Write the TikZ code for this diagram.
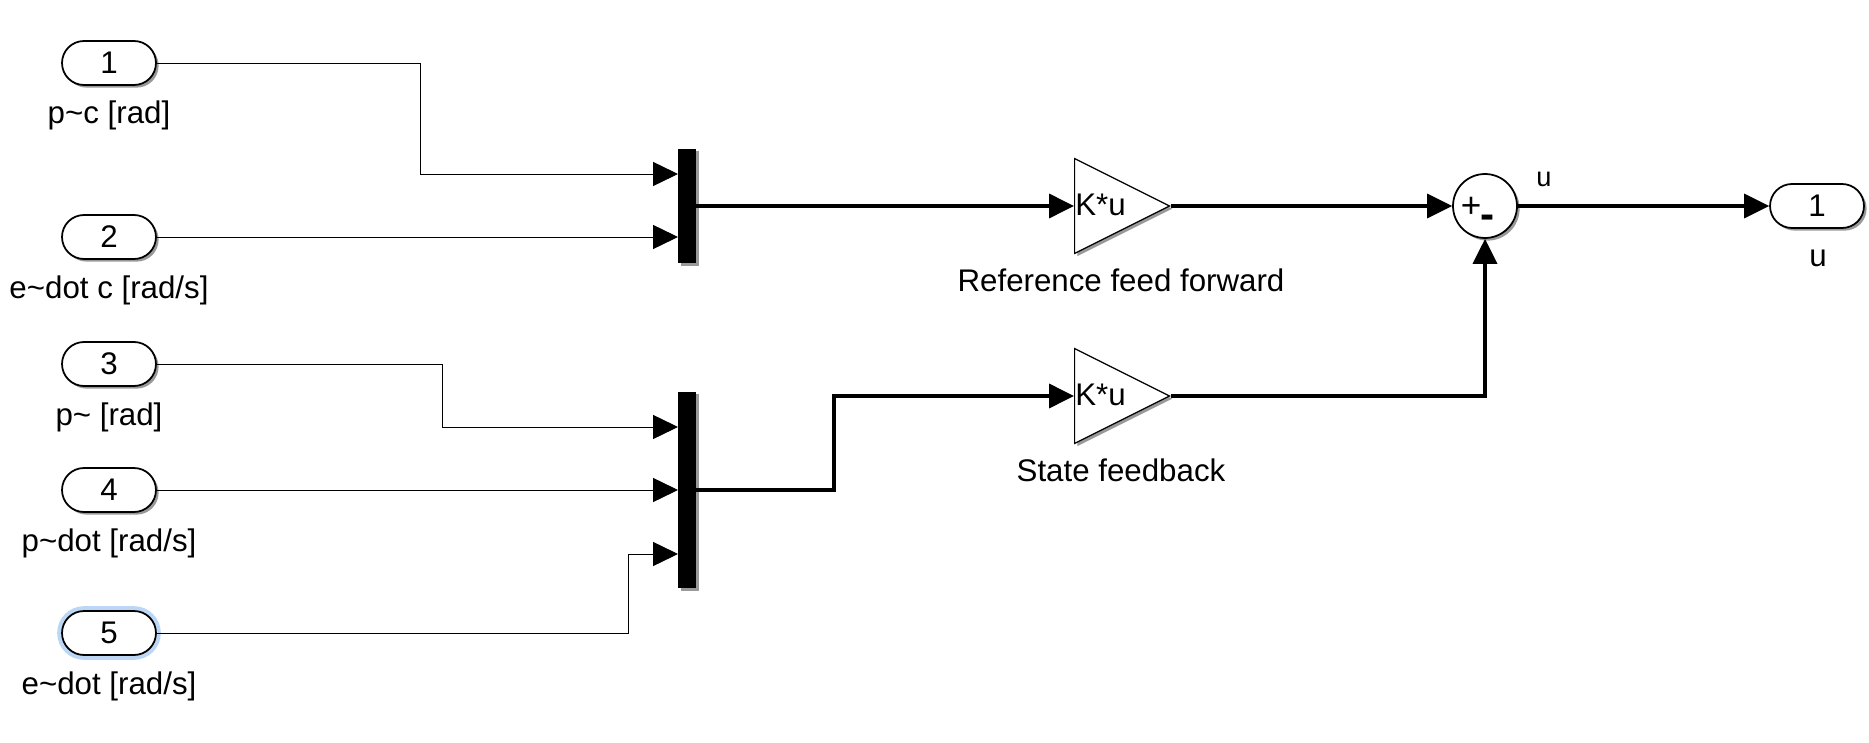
\documentclass[tikz,border=0pt]{standalone}
\usepackage{fontspec}
\setmainfont{Liberation Sans}
\usetikzlibrary{arrows.meta, calc, shapes.geometric, shapes.misc, shadows}

\tikzset{
  blockshadow/.style={drop shadow={shadow xshift=1.5pt, shadow yshift=-1.5pt, fill=black, opacity=0.4}},
  port/.style={rounded rectangle, draw, line width=1pt, fill=white, blockshadow, minimum width=1.88cm, minimum height=0.88cm, inner sep=0pt},
  selport/.style={port, preaction={draw={rgb,255:red,187;green,215;blue,245}, line width=5.5pt}},
  muxbar/.style={rectangle, fill=black, blockshadow, minimum width=0.36cm, inner sep=0pt},
  gainblock/.style={isosceles triangle, isosceles triangle apex angle=53.13, isosceles triangle stretches, draw, line width=0.7pt, fill=white, blockshadow, minimum width=1.9cm, minimum height=1.9cm, inner sep=0pt, anchor=lower side},
  sumblock/.style={circle, draw, line width=1pt, fill=white, blockshadow, minimum size=1.28cm, inner sep=0pt},
  txt/.style={inner sep=0pt, anchor=base},
  thinwire/.style={line width=0.55pt, -{Triangle[length=14.2pt, width=13.7pt]}},
  thickwire/.style={line width=1.9pt, -{Triangle[length=14.2pt, width=13.7pt]}}
}

\begin{document}
\begin{tikzpicture}[x=0.02cm, y=-0.02cm, font=\fontsize{17.8}{20}\selectfont]

\useasboundingbox (0,0) rectangle (1869,743);

% Entradas
\node[port] (in1) at (109,63) {1};
\node[port] (in2) at (109,237) {2};
\node[port] (in3) at (109,364) {3};
\node[port] (in4) at (109,490) {4};
\node[selport] (in5) at (109,633) {5};

\node[txt] (lab1) at (109,124) {p\textasciitilde c [rad]};
\node[txt] (lab2) at (109,298) {e\textasciitilde dot c [rad/s]};
\node[txt] (lab3) at (109,425) {p\textasciitilde{} [rad]};
\node[txt] (lab4) at (109,551) {p\textasciitilde dot [rad/s]};
\node[txt] (lab5) at (109,694) {e\textasciitilde dot [rad/s]};

% Mux
\node[muxbar, minimum height=2.3cm] (mux1) at (687,206) {};
\node[muxbar, minimum height=3.94cm] (mux2) at (687,490) {};

% Entradas de los mux
\coordinate (m1a) at (678,174);
\coordinate (m1b) at (678,237);
\coordinate (m2a) at (678,427);
\coordinate (m2b) at (678,490);
\coordinate (m2c) at (678,554);

% Ganancias
\node[gainblock] (gain1) at (1074,206) {};
\node[gainblock] (gain2) at (1074,396) {};
\node[txt, anchor=base west] (gtxt1) at (1075,215) {K*u};
\node[txt, anchor=base west] (gtxt2) at (1075,405) {K*u};
\node[txt] (gname1) at (1121,292) {Reference feed forward};
\node[txt] (gname2) at (1121,481) {State feedback};

% Suma
\node[sumblock] (sum) at (1485,206) {};
\node[inner sep=0pt, font=\fontsize{20}{22}\selectfont] (plus) at (1471,207) {+};
\node[inner sep=0pt, font=\fontsize{24}{26}\selectfont\bfseries] (minus) at (1487,222) {-};

% Salida
\node[port] (out1) at (1817,206) {1};
\node[txt] (outlab) at (1818,266) {u};
\node[txt, font=\fontsize{15.5}{18}\selectfont] (ulab) at (1544,187) {u};

% Conexiones
\coordinate (c1) at (420,174);
\coordinate (c3) at (442,427);
\coordinate (c5) at (628,554);
\coordinate (c6) at (834,396);

\draw[thinwire] (in1.east) -| (c1) -- (m1a);
\draw[thinwire] (in2.east) -- (m1b);
\draw[thinwire] (in3.east) -| (c3) -- (m2a);
\draw[thinwire] (in4.east) -- (m2b);
\draw[thinwire] (in5.east) -| (c5) -- (m2c);

\draw[thickwire] (mux1.east) -- (gain1.lower side);
\draw[thickwire] (mux2.east) -| (c6) -- (gain2.lower side);
\draw[thickwire] (gain1.apex) -- (sum.west);
\draw[thickwire] (gain2.apex) -| (sum.south);
\draw[thickwire] (sum.east) -- (out1.west);

\end{tikzpicture}
\end{document}
